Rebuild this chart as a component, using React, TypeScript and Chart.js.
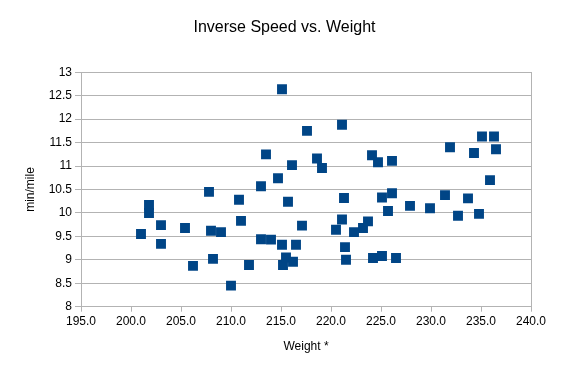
import React, { useEffect, useRef } from "react";
import { Chart, registerables } from "chart.js";

Chart.register(...registerables);

const TITLE = "Inverse Speed vs. Weight";
const X_TITLE = "Weight *";
const Y_TITLE = "min/mile";

const weights: number[] = [
  201.0, 201.8, 201.8, 203.0, 203.0, 205.4, 206.2, 207.8, 208.0, 208.2,
  209.0, 210.0, 210.8, 211.0, 211.8, 213.0, 213.0, 213.5, 214.0, 214.7,
  215.1, 215.1, 215.2, 215.5, 215.7, 216.1, 216.2, 216.5, 217.1, 217.6,
  218.6, 219.1, 220.5, 221.1, 221.1, 221.3, 221.4, 221.5, 222.3, 223.2,
  223.7, 224.1, 224.7, 224.2, 225.1, 225.1, 226.1, 226.1, 225.7, 226.5,
  227.9, 229.9, 231.4, 231.9, 232.7, 233.7, 234.3, 234.8, 235.1, 235.9,
  236.3, 236.5,
];

const minPerMile: number[] = [
  9.55, 10.17, 10.0, 9.74, 9.34, 9.68, 8.87, 10.45, 9.62, 9.02,
  9.59, 8.45, 10.28, 9.83, 8.89, 10.57, 9.44, 11.25, 9.43, 10.74,
  12.64, 9.32, 8.89, 9.05, 10.24, 11.02, 8.96, 9.32, 9.73, 11.75,
  11.16, 10.96, 9.64, 11.88, 9.86, 10.32, 9.27, 9.0, 9.59, 9.68,
  9.82, 11.23, 11.08, 9.04, 9.08, 10.33, 11.11, 10.42, 10.04, 9.04,
  10.15, 10.1, 10.38, 11.4, 9.94, 10.31, 11.28, 9.98, 11.63, 10.7,
  11.63, 11.36,
];

const X_MIN = 195;
const X_MAX = 240;
const X_STEP = 5;
const Y_MIN = 8;
const Y_MAX = 13;
const Y_STEP = 0.5;

const FONT = "'Liberation Sans', Arial, sans-serif";
const SERIES_COLOR = "#004586";
const GRID_COLOR = "#b3b3b3";
const TEXT_COLOR = "#000000";

export default function App() {
  const ref = useRef<HTMLCanvasElement | null>(null);

  useEffect(() => {
    if (!ref.current) return;
    const points = weights.map((w, i) => ({ x: w, y: minPerMile[i] }));
    const chart = new Chart(ref.current, {
      type: "scatter",
      data: {
        datasets: [
          {
            label: Y_TITLE,
            data: points,
            backgroundColor: SERIES_COLOR,
            borderColor: SERIES_COLOR,
            borderWidth: 0,
            pointStyle: "rect",
            pointRadius: 7,
            pointHoverRadius: 7,
          },
        ],
      },
      options: {
        responsive: false,
        animation: false,
        devicePixelRatio: 1,
        layout: { padding: 0 },
        plugins: {
          legend: { display: false },
          tooltip: { enabled: false },
          title: {
            display: true,
            text: TITLE,
            color: TEXT_COLOR,
            font: { family: FONT, size: 16, weight: "normal" },
            padding: { top: 17.6, bottom: 35.5 },
          },
        },
        scales: {
          x: {
            type: "linear",
            min: X_MIN,
            max: X_MAX,
            afterFit(scale: any) {
              scale.height = 69.3;
            },
            ticks: {
              stepSize: X_STEP,
              color: TEXT_COLOR,
              font: { family: FONT, size: 12 },
              padding: 3,
              callback: (v: any) => Number(v).toFixed(1),
            },
            grid: {
              drawOnChartArea: false,
              drawTicks: true,
              tickLength: 5,
              color: GRID_COLOR,
            },
            border: { display: true, color: GRID_COLOR },
            title: {
              display: true,
              text: X_TITLE,
              color: TEXT_COLOR,
              font: { family: FONT, size: 12 },
              padding: { top: 4, bottom: 22.3 },
            },
          },
          y: {
            type: "linear",
            min: Y_MIN,
            max: Y_MAX,
            afterFit(scale: any) {
              scale.width = 81;
            },
            ticks: {
              stepSize: Y_STEP,
              color: TEXT_COLOR,
              font: { family: FONT, size: 12 },
              padding: 3,
              callback: (v: any) => String(v),
            },
            grid: {
              drawTicks: true,
              tickLength: 6,
              color: GRID_COLOR,
            },
            border: { display: true, color: GRID_COLOR },
            title: {
              display: true,
              text: Y_TITLE,
              color: TEXT_COLOR,
              font: { family: FONT, size: 12 },
              padding: { top: 23.8, bottom: 4 },
            },
          },
          yRight: {
            type: "linear",
            position: "right",
            display: true,
            min: Y_MIN,
            max: Y_MAX,
            afterFit(scale: any) {
              scale.width = 38;
            },
            ticks: { display: false },
            grid: { drawOnChartArea: false, drawTicks: false },
            border: { display: true, color: GRID_COLOR },
          },
        },
      },
    });
    return () => chart.destroy();
  }, []);

  return (
    <div style={{ position: "fixed", left: 0, top: 0, width: 569, height: 376, background: "#fff" }}>
      <canvas ref={ref} width={569} height={376} style={{ width: 569, height: 376 }} />
    </div>
  );
}
